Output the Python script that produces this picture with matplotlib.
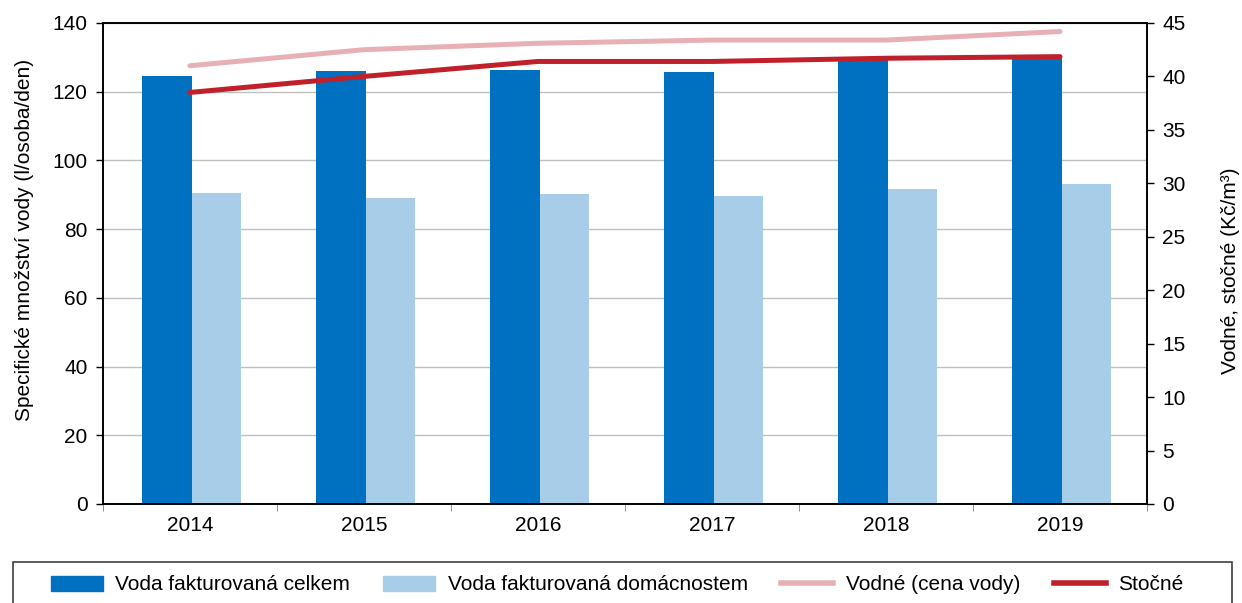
import numpy as np
import matplotlib
matplotlib.use("Agg")
import matplotlib.pyplot as plt
from matplotlib.patches import Patch, Rectangle
from matplotlib.lines import Line2D

plt.rcParams['font.family'] = ['Liberation Sans', 'DejaVu Sans']

# data
roky = ['2014', '2015', '2016', '2017', '2018', '2019']
voda_celkem = [124.6, 126.0, 126.3, 125.6, 129.5, 130.0]
voda_domacnosti = [90.4, 89.2, 90.2, 89.6, 91.7, 93.1]
vodne = [41.0, 42.5, 43.1, 43.4, 43.4, 44.2]
stocne = [38.5, 40.0, 41.4, 41.4, 41.7, 41.85]

c_dark = '#0070c0'
c_light = '#a7cde8'
c_vodne = '#e6b0b4'
c_stocne = '#c0202a'
fs = 15

fig = plt.figure(figsize=(12.42, 6.03), dpi=100)
ax = fig.add_axes([0.0829, 0.1642, 0.8406, 0.7977])
ax2 = ax.twinx()

x = np.arange(len(roky))
w = 0.283
ax.bar(x - w/2 + 0.01, voda_celkem, w, color=c_dark, zorder=2)
ax.bar(x + w/2 + 0.01, voda_domacnosti, w, color=c_light, zorder=2)

ax2.plot(x, vodne, color=c_vodne, lw=3.6, solid_capstyle='round')
ax2.plot(x, stocne, color=c_stocne, lw=3.6, solid_capstyle='round')

ax.set_xlim(-0.5, len(roky) - 0.5)
ax.set_ylim(0, 140)
ax.set_yticks(range(0, 141, 20))
ax2.set_ylim(0, 45)
ax2.set_yticks(range(0, 46, 5))

ax.set_xticks(x)
ax.set_xticklabels(roky)
ax.set_xticks(np.arange(-0.5, len(roky), 1), minor=True)
ax.tick_params(axis='x', which='major', length=0, pad=9, labelsize=fs)
ax.tick_params(axis='x', which='minor', length=5, color='#808080')
ax.tick_params(axis='y', labelsize=fs, length=5, width=1, pad=6)
ax2.tick_params(axis='y', labelsize=fs, length=5, width=1, pad=6)

ax.yaxis.grid(True, color='#c0c0c0', lw=1)
ax.set_axisbelow(True)
for a in (ax, ax2):
    for s in a.spines.values():
        s.set_linewidth(1.2)
        s.set_color('black')

ax.set_ylabel('Specifické množství vody (l/osoba/den)', fontsize=fs)
ax.yaxis.set_label_coords(-0.066, 0.549)
ax2.set_ylabel('Vodné, stočné (Kč/m³)', fontsize=fs)
ax2.yaxis.set_label_coords(1.0705, 0.484)

# legend frame runs past the bottom edge like in the original
fig.patches.append(Rectangle((13/1242, -0.05), 1219/1242, 0.05 + 41/603,
                             transform=fig.transFigure, fill=False,
                             edgecolor='#404040', lw=1.2))

handles = [
    Patch(color=c_dark, label='Voda fakturovaná celkem'),
    Patch(color=c_light, label='Voda fakturovaná domácnostem'),
    Line2D([0], [0], color=c_vodne, lw=4, label='Vodné (cena vody)'),
    Line2D([0], [0], color=c_stocne, lw=4, label='Stočné'),
]
fig.legend(handles=handles, loc='center', ncol=4,
           bbox_to_anchor=(617/1242, 1 - 585/603),
           fontsize=fs, frameon=False, handlelength=2.5, handleheight=0.7,
           handletextpad=0.6, columnspacing=1.6, borderaxespad=0)

fig.savefig('out.png', dpi=100)
